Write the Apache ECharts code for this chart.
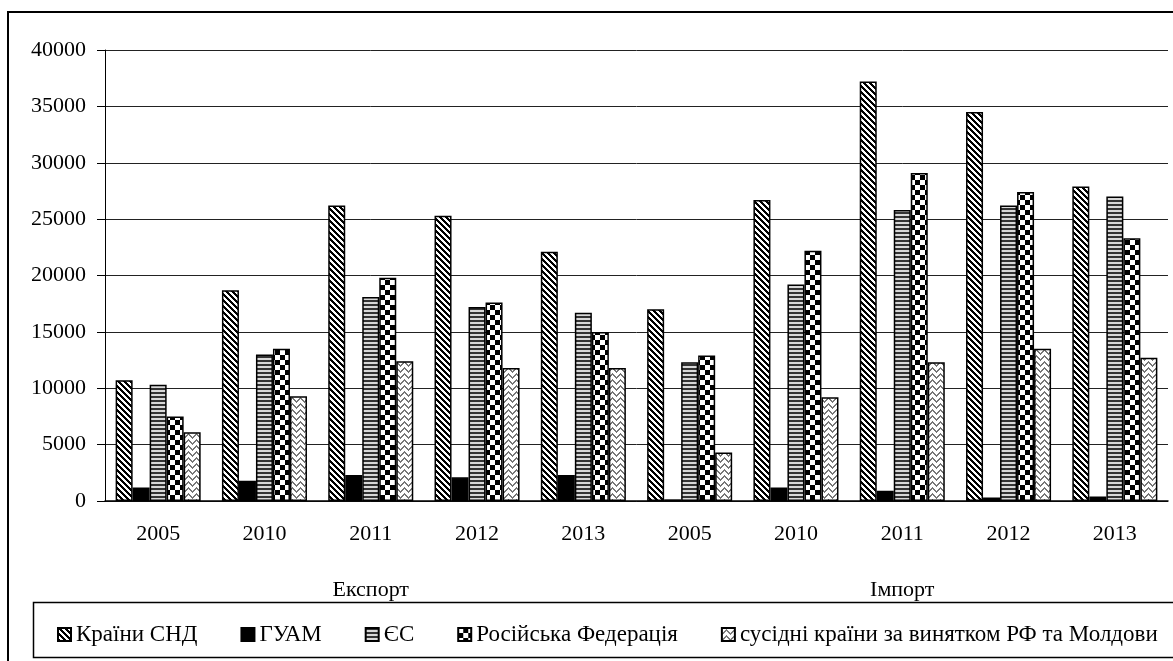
<!DOCTYPE html>
<html>
<head>
<meta charset="utf-8">
<script src="https://cdn.jsdelivr.net/npm/echarts@6/dist/echarts.min.js"></script>
<style>
  html, body { margin: 0; padding: 0; background: #fff; }
  #chart { width: 1173px; height: 661px; }
</style>
</head>
<body>
<div id="chart"></div>
<script>
// категорії
var years = ['2005', '2010', '2011', '2012', '2013', '2005', '2010', '2011', '2012', '2013'];
var groups = ['Експорт', 'Імпорт'];
var yTicks = [0, 5000, 10000, 15000, 20000, 25000, 30000, 35000, 40000];

// дані (спочатку експорт, потім імпорт)
var sndValues = [10700, 18700, 26200, 25300, 22100, 17000, 26700, 37200, 34500, 27900];
var guamValues = [1200, 1800, 2300, 2100, 2300, 150, 1200, 900, 300, 400];
var esValues = [10300, 13000, 18100, 17200, 16700, 12300, 19200, 25800, 26200, 27000];
var rfValues = [7500, 13500, 19800, 17600, 15000, 12900, 22200, 29100, 27400, 23300];
var susValues = [6100, 9300, 12400, 11800, 11800, 4300, 9200, 12300, 13500, 12700];

var font = "'Liberation Serif', 'Times New Roman', serif";

// штрихування через canvas
function tile(w, h, fn) {
  var c = document.createElement('canvas');
  c.width = w; c.height = h;
  var ctx = c.getContext('2d');
  for (var y = 0; y < h; y++) {
    for (var x = 0; x < w; x++) {
      ctx.fillStyle = fn(x, y);
      ctx.fillRect(x, y, 1, 1);
    }
  }
  return { image: c, repeat: 'repeat' };
}

var sndFill = tile(6, 6, function (x, y) {
  return ((x - y + 12) % 6) < 3 ? '#000' : '#fff';
});
var esFill = tile(4, 4, function (x, y) {
  return y % 4 < 2 ? '#333' : '#d8d8d8';
});
var rfFill = tile(10, 10, function (x, y) {
  return (Math.floor(x / 5) + Math.floor(y / 5)) % 2 ? '#000' : '#fff';
});
var susFill = tile(8, 6, function (x, y) {
  var yy = 1 + Math.abs(x - 4);
  return ((y - yy + 12) % 6) < 2 ? '#777' : '#fff';
});

function bar(name, data, fill) {
  return {
    name: name,
    type: 'bar',
    data: data,
    barGap: '0%',
    barCategoryGap: '20%',
    itemStyle: { color: fill, borderColor: '#000', borderWidth: 1.5 }
  };
}

var myChart = echarts.init(document.getElementById('chart'));

var option = {
  animation: false,
  backgroundColor: '#fff',
  textStyle: { fontFamily: font },
  grid: { left: 105, right: 5, top: 50, bottom: 160 },
  graphic: [
    { type: 'rect', silent: true, z: -1, shape: { x: 8, y: 12, width: 1190, height: 700 },
      style: { fill: 'transparent', stroke: '#000', lineWidth: 2 } },
    { type: 'rect', silent: true, shape: { x: 33.5, y: 602.5, width: 1160, height: 55 },
      style: { fill: 'transparent', stroke: '#000', lineWidth: 1.5 } }
  ],
  legend: {
    left: 52,
    top: 618,
    icon: 'rect',
    itemWidth: 13,
    itemHeight: 13,
    itemGap: 43,
    textStyle: { fontFamily: font, fontSize: 23, color: '#000' },
    data: ['Країни СНД', 'ГУАМ', 'ЄС', 'Російська Федерація', 'сусідні країни за винятком РФ та Молдови']
  },
  xAxis: [
    {
      type: 'category',
      data: years,
      position: 'bottom',
      axisLine: { lineStyle: { color: '#000', width: 1.5 } },
      axisTick: { interval: 0, length: 49, lineStyle: { color: '#000' } },
      axisLabel: { interval: 0, margin: 22, fontSize: 22, color: '#000', fontFamily: font }
    },
    {
      type: 'category',
      data: groups,
      position: 'bottom',
      axisLine: { show: false },
      axisTick: { interval: 0, length: 101, lineStyle: { color: '#000' } },
      axisLabel: { interval: 0, margin: 78, fontSize: 22, color: '#000', fontFamily: font }
    }
  ],
  yAxis: {
    type: 'value',
    min: yTicks[0],
    max: yTicks[yTicks.length - 1],
    interval: 5000,
    axisLine: { show: true, lineStyle: { color: '#000' } },
    axisTick: { show: true, length: 8, lineStyle: { color: '#000' } },
    axisLabel: {
      margin: 19, fontSize: 22, color: '#000', fontFamily: font,
      formatter: function (v) { return String(v); }
    },
    splitLine: { lineStyle: { color: '#222', width: 1 } }
  },
  series: [
    bar('Країни СНД', sndValues, sndFill),
    bar('ГУАМ', guamValues, '#000'),
    bar('ЄС', esValues, esFill),
    bar('Російська Федерація', rfValues, rfFill),
    bar('сусідні країни за винятком РФ та Молдови', susValues, susFill)
  ]
};

myChart.setOption(option);
</script>
</body>
</html>
